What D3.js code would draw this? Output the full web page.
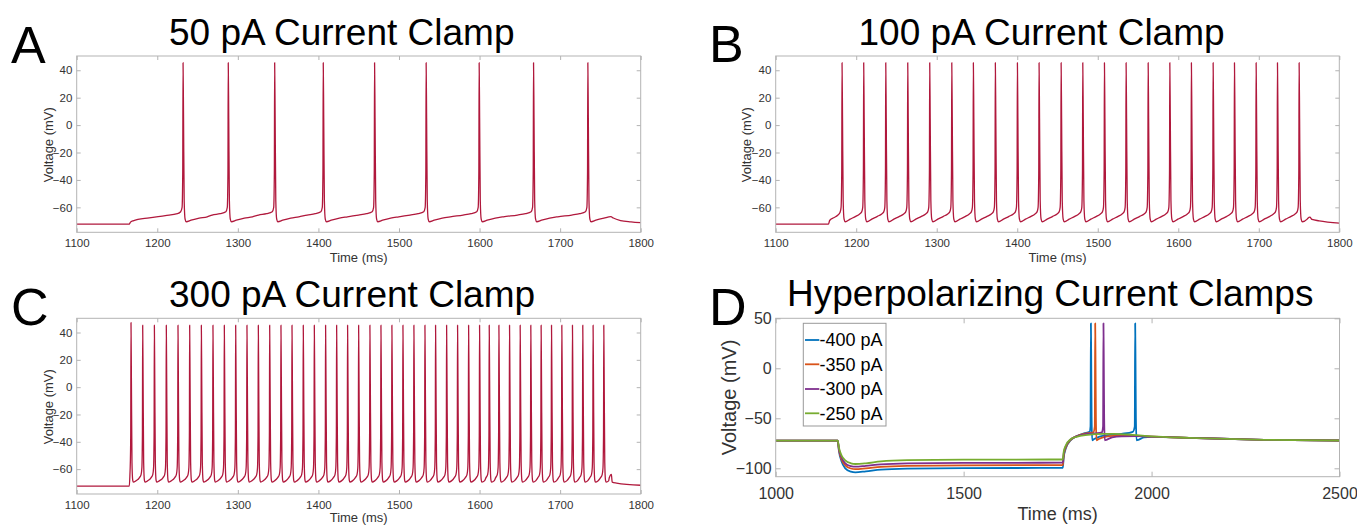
<!DOCTYPE html>
<html><head><meta charset="utf-8">
<script src="https://cdn.jsdelivr.net/npm/d3@7"></script>
<style>
html,body{margin:0;padding:0;background:#fff;}
svg{display:block;font-family:"Liberation Sans",Arial,Helvetica,sans-serif;}
</style></head>
<body>
<svg id="chart" width="1357" height="525"></svg>
<script>
// ---------- DATA ----------
const xTicksABC = [1100,1200,1300,1400,1500,1600,1700,1800];
const yTicksABC = [-60,-40,-20,0,20,40];
const xTicksD = [1000,1500,2000,2500];
const yTicksD = [-100,-50,0,50];

// spike times (ms)
const spikeTimesA = [1232,1288.1,1345.7,1406,1469.7,1533.7,1599.5,1667,1734.4];
const spikeTimesB = [1182.4,1209.3,1236.7,1264,1291.3,1318.7,1345.5,1372.8,1400.2,1427.1,1454.5,1481.4,1508.3,1535.2,1562.6,1589.5,1616.3,1643.3,1669.8,1696.7,1723.2,1750.1];
const spikeTimesC = [1167.4,1181.9,1196.4,1211.2,1225.7,1240.2,1254.7,1269.1,1283.2,1297.3,1311.3,1325.4,1339.5,1353.5,1367.2,1381.2,1394.9,1408.9,1422.6,1436.2,1449.9,1463.9,1477.6,1491.2,1504.9,1518.5,1532.2,1545.4,1559.1,1572.7,1586.4,1600.0,1612.0,1624.0,1637.2,1650.4,1663.6,1676.4,1689.3,1702.1,1715.3,1728.1,1740.9,1754.2];

// waveform pieces: [ms offset from spike, mV]
const spikeShapeAB = [[-1.2,-60],[-0.4,-35],[0,45.5],[0.6,5],[1.4,-55],[2.5,-68.5],[4,-70.5]];
const spikeShapeC  = [[-1.0,-59],[-0.35,-35],[0,45.3],[0.5,5],[1.2,-55],[2.1,-68],[3,-69.5]];
const firstPeakC = 47.3;

const startA = [[1100,-72.3],[1165.3,-72.3],[1166.5,-71],[1170,-69.8],[1190,-67.6],[1210,-66],[1225,-64.6]];
const preA = [[-20,-65.6],[-10,-64.6],[-3,-63.2]];
const recoveryA = [[10,-69.4],[20,-67.9],[30,-66.9]];
const endA = [[1763,-66.8],[1766,-67.8],[1775,-69.6],[1788,-70.6],[1800,-71.2]];

const startB = [[1100,-72.3],[1165.5,-72.3],[1167,-69.6],[1172,-67.6],[1177,-65.8],[1180,-63.5]];
const preB = [[-5,-64.8],[-2.5,-63.3]];
const recoveryB = [[10,-68.6],[17,-66.6]];
const endB = [[1761,-68],[1763.5,-67.2],[1766,-68.8],[1775,-69.8],[1800,-71.5]];

const startC = [[1100,-72.4],[1165.3,-72.4],[1166.2,-62]];
const preC = [[-4,-66.2],[-2,-64]];
const recoveryC = [[6,-68.6]];
const endC = [[1761,-66.3],[1763.6,-63.8],[1764.6,-69.5],[1770,-70.2],[1800,-71.8]];

// Panel D traces [ms, mV]
const dLabels = ["-400 pA","-350 pA","-300 pA","-250 pA"];
const dColors = ["#0072BD","#D95319","#7E2F8E","#77AC30"];
const traceM400 = [[1000,-72.4],[1165,-72.4],[1168,-82],[1175,-93],[1185,-100],[1200,-103.3],[1212,-104],[1240,-103],[1280,-101.3],[1350,-100.3],[1500,-99.8],[1764,-99.6],[1766,-90],[1772,-80],[1785,-72],[1800,-68],[1820,-65],[1835,-63.5],[1837.6,-58],[1838.6,45],[1839.6,0],[1840.5,-50],[1842,-72],[1846,-71],[1860,-68.5],[1880,-67],[1920,-65.5],[1950,-63.5],[1955.3,-58],[1956.4,45],[1957.4,0],[1958.3,-50],[1960,-72],[1965,-71.5],[1980,-69],[2000,-68.5],[2100,-69.5],[2300,-71.5],[2500,-72.2]];
const traceM350 = [[1000,-72.4],[1165,-72.4],[1168,-81],[1175,-91],[1185,-97],[1200,-100.2],[1212,-100.8],[1240,-100],[1280,-98.5],[1350,-97.5],[1500,-97],[1764,-96.8],[1766,-88],[1772,-79],[1785,-71.5],[1800,-68],[1820,-65.5],[1845,-64],[1849,-58],[1850,45],[1851,0],[1851.9,-50],[1853.5,-72],[1858,-71],[1875,-68.5],[1900,-67.5],[1950,-67.5],[2000,-68.3],[2100,-69.5],[2300,-71.5],[2500,-72.2]];
const traceM300 = [[1000,-72.4],[1165,-72.4],[1168,-80],[1175,-89],[1185,-95],[1200,-97.8],[1212,-98.4],[1240,-97.5],[1280,-96],[1350,-95],[1500,-94.6],[1764,-94.4],[1766,-86],[1772,-78],[1785,-71],[1800,-68],[1820,-66],[1850,-65],[1868,-64],[1871,-58],[1872,45],[1873,0],[1873.9,-50],[1875.5,-72],[1880,-71.5],[1895,-69],[1920,-68],[1960,-67.8],[2000,-68.3],[2100,-69.5],[2300,-71.5],[2500,-72.2]];
const traceM250 = [[1000,-72.4],[1165,-72.4],[1168,-79],[1175,-87],[1185,-92],[1200,-95],[1212,-95.7],[1240,-95],[1280,-93],[1350,-91.8],[1500,-91.3],[1764,-91.2],[1766,-84],[1772,-77],[1785,-71],[1800,-68.5],[1830,-66.5],[1870,-65.5],[1900,-65.5],[1950,-66.5],[2000,-68],[2100,-69.5],[2300,-71.5],[2500,-72.2]];
const dTraces = [traceM400,traceM350,traceM300,traceM250];

// ---------- BUILD ----------
function buildTrace(start, spikes, shape, pre, recovery, end, firstPeak){
  const raw = start.slice();
  spikes.forEach((s,i)=>{
    pre.forEach(([dt,v])=>raw.push([s+dt,v]));
    shape.forEach(([dt,v])=>raw.push([s+dt,(dt===0&&i===0&&firstPeak!=null)?firstPeak:v]));
    const limit = i<spikes.length-1 ? spikes[i+1]+pre[0][0] : end[0][0];
    recovery.forEach(([dt,v])=>{ if(s+dt<limit) raw.push([s+dt,v]); });
  });
  end.forEach(p=>raw.push(p));
  const out=[]; let last=-Infinity;
  raw.forEach(p=>{ if(p[0]>last){ out.push(p); last=p[0]; } });
  return out;
}

const svg = d3.select("#chart");
const FONT = '"Liberation Sans",Arial,Helvetica,sans-serif';
const BOX = "#b3b3b3", TXT = "#333";

function panel(cfg){
  const x = d3.scaleLinear().domain(cfg.xd).range([cfg.x0,cfg.x1]);
  const y = d3.scaleLinear().domain(cfg.yd).range([cfg.y1,cfg.y0]);
  const g = svg.append("g");
  const clipId = "clip"+cfg.id;
  svg.append("clipPath").attr("id",clipId).append("rect")
    .attr("x",cfg.x0).attr("y",cfg.y0).attr("width",cfg.x1-cfg.x0).attr("height",cfg.y1-cfg.y0);
  const ts = cfg.tick;
  const ax = [
    [d3.axisBottom(x).tickValues(cfg.xt).tickSize(-ts).tickPadding(cfg.xpad).tickFormat(d3.format("d")), `translate(0,${cfg.y1})`],
    [d3.axisTop(x).tickValues(cfg.xt).tickSize(-ts).tickFormat(""), `translate(0,${cfg.y0})`],
    [d3.axisLeft(y).tickValues(cfg.yt).tickSize(-ts).tickPadding(cfg.ypad).tickFormat(d3.format("d")), `translate(${cfg.x0},0)`],
    [d3.axisRight(y).tickValues(cfg.yt).tickSize(-ts).tickFormat(""), `translate(${cfg.x1},0)`]
  ];
  ax.forEach(([a,t])=>{
    const ag = g.append("g").attr("transform",t).call(a);
    ag.select(".domain").remove();
    ag.selectAll("line").attr("stroke",BOX);
    ag.selectAll("text").attr("fill",TXT).style("font-family",FONT).style("font-size",cfg.tfs+"px");
  });
  // traces
  const line = d3.line().x(d=>x(d[0])).y(d=>y(d[1])).curve(d3.curveMonotoneX);
  cfg.traces.forEach((tr,i)=>{
    g.append("path").attr("d",line(tr)).attr("fill","none")
      .attr("stroke",cfg.colors[i]).attr("stroke-width",cfg.lw)
      .attr("stroke-linejoin","round").attr("clip-path",`url(#${clipId})`);
  });
  // box
  g.append("rect").attr("x",cfg.x0).attr("y",cfg.y0).attr("width",cfg.x1-cfg.x0).attr("height",cfg.y1-cfg.y0)
    .attr("fill","none").attr("stroke",BOX).attr("stroke-width",1);
  // labels
  g.append("text").attr("x",(cfg.x0+cfg.x1)/2).attr("y",cfg.xlabY).attr("text-anchor","middle")
    .attr("fill",TXT).style("font-size",cfg.lfs+"px").text("Time (ms)");
  g.append("text").attr("transform",`translate(${cfg.ylabX},${cfg.ylabY}) rotate(-90)`).attr("text-anchor","middle")
    .attr("dy","0.35em").attr("fill",TXT).style("font-size",cfg.ylfs+"px").text("Voltage (mV)");
  g.append("text").attr("x",cfg.titleX).attr("y",cfg.titleY).attr("fill","#000").style("font-size","37px").text(cfg.title);
  g.append("text").attr("x",cfg.letX).attr("y",cfg.letY).attr("fill","#000").style("font-size","52px").text(cfg.letter);
  return {g,x,y};
}

const red = "#B0183C";
const ydABC = [-78.2,50.4];

panel({id:"A",x0:76.7,x1:640.7,y0:56,y1:232.3,xd:[1100,1800],yd:ydABC,xt:xTicksABC,yt:yTicksABC,
  tick:4,xpad:6.5,ypad:4.4,tfs:11.5,lfs:13,ylfs:13,xlabY:262.3,ylabX:48.3,ylabY:144.7,
  traces:[buildTrace(startA,spikeTimesA,spikeShapeAB,preA,recoveryA,endA)],colors:[red],lw:1.3,
  title:"50 pA Current Clamp",titleX:169,titleY:45,letter:"A",letX:11,letY:62.5});
panel({id:"B",x0:775.7,x1:1339.3,y0:56,y1:232.3,xd:[1100,1800],yd:ydABC,xt:xTicksABC,yt:yTicksABC,
  tick:4,xpad:6.5,ypad:4.4,tfs:11.5,lfs:13,ylfs:13,xlabY:262.3,ylabX:746.7,ylabY:144.7,
  traces:[buildTrace(startB,spikeTimesB,spikeShapeAB,preB,recoveryB,endB)],colors:[red],lw:1.3,
  title:"100 pA Current Clamp",titleX:858.5,titleY:45,letter:"B",letX:709,letY:62});
panel({id:"C",x0:76.7,x1:640.7,y0:318.3,y1:494,xd:[1100,1800],yd:ydABC,xt:xTicksABC,yt:yTicksABC,
  tick:4,xpad:6.5,ypad:4.4,tfs:11.5,lfs:13,ylfs:13,xlabY:521.5,ylabX:48.3,ylabY:406.7,
  traces:[buildTrace(startC,spikeTimesC,spikeShapeC,preC,recoveryC,endC,firstPeakC)],colors:[red],lw:1.3,
  title:"300 pA Current Clamp",titleX:169,titleY:306.7,letter:"C",letX:11,letY:324.5});
const D = panel({id:"D",x0:775.7,x1:1339.5,y0:318.3,y1:476.7,xd:[1000,2500],yd:[-108.4,50],xt:xTicksD,yt:yTicksD,
  tick:5,xpad:11,ypad:4,tfs:16,lfs:18,ylfs:20,xlabY:520,ylabX:729.3,ylabY:397.5,
  traces:dTraces,colors:dColors,lw:1.8,
  title:"Hyperpolarizing Current Clamps",titleX:787,titleY:306,letter:"D",letX:709,letY:325});

// legend D
const lg = svg.append("g");
lg.append("rect").attr("x",803.3).attr("y",323.3).attr("width",82.7).attr("height",102.7)
  .attr("fill","#fff").attr("stroke","#999").attr("stroke-width",1);
const rowY = [340,364.3,389,413.3];
dLabels.forEach((lab,i)=>{
  lg.append("line").attr("x1",805).attr("x2",819.3).attr("y1",rowY[i]).attr("y2",rowY[i])
    .attr("stroke",dColors[i]).attr("stroke-width",1.8);
  lg.append("text").attr("x",819.5).attr("y",rowY[i]).attr("dy","0.35em").attr("fill","#000")
    .style("font-size","18px").text(lab);
});
</script>
</body></html>
